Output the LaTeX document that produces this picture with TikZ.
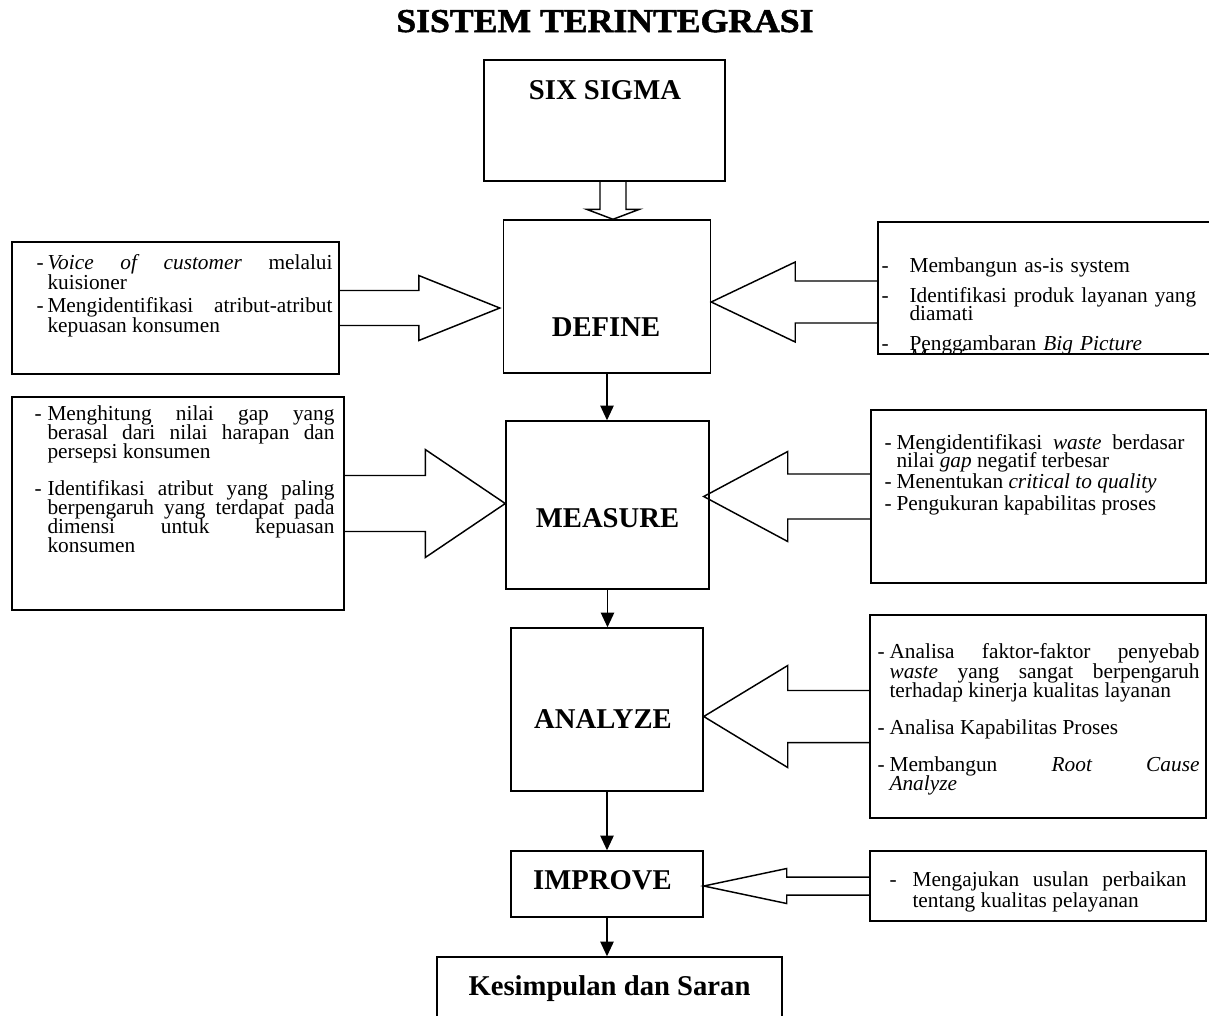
\documentclass[tikz,border=0pt]{standalone}
\usepackage{fontspec}
\setmainfont{Liberation Serif}
\newfontfamily\titlefont{Liberation Serif Bold}[FakeStretch=1.07,FakeBold=1.5]
\usetikzlibrary{calc,arrows.meta}

\tolerance=10000
\hyphenpenalty=10000
\exhyphenpenalty=10000

\newcommand{\bodyset}[1]{\fontsize{16}{#1}\selectfont\setlength{\parskip}{0pt}\lineskiplimit=-20pt\lineskip=0pt}
\newcommand{\itm}[3][0pt]{\ifdim#1>0pt\vskip#1\fi\hangindent=#2\hangafter=1\noindent\makebox[#2][l]{-}#3\par}

\newcommand{\fatarrow}[5]{%
  \draw[hollow] ($(#1)+(0,-#5)$) -- ($(#2)+({-1*(#3)},-#5)$) -- ($(#2)+({-1*(#3)},-#4)$) -- (#2)
    -- ($(#2)+({-1*(#3)},#4)$) -- ($(#2)+({-1*(#3)},#5)$) -- ($(#1)+(0,#5)$);}

\tikzset{
  box/.style={draw=black, line width=1.1pt, rectangle, inner sep=0pt},
  stagelbl/.style={font=\fontsize{21.5}{24}\selectfont\bfseries, inner sep=0pt, anchor=base},
  info/.style={inner sep=0pt, anchor=north west, align=justify, font=\bodyset{#1}},
  flow/.style={line width=1.1pt, -{Triangle[length=11pt,width=10pt]}},
  hollow/.style={line width=1.1pt, line join=miter},
}

\begin{document}
\begin{tikzpicture}[x=0.75pt, y=-0.75pt]
\useasboundingbox (0,0) rectangle (1209,1015);

\node[font=\titlefont\fontsize{25}{28}\selectfont, inner sep=0pt, anchor=base] (title) at (605,32) {SISTEM TERINTEGRASI};

\node[box, minimum width=180.75pt, minimum height=90.75pt] (six) at (604.5,120.5) {};
\node[box, minimum width=155.25pt, minimum height=114.75pt] (define) at (607,296.5) {};
\node[box, minimum width=152.25pt, minimum height=126pt] (measure) at (607.5,505) {};
\node[box, minimum width=144pt, minimum height=122.25pt] (analyze) at (607,709.5) {};
\node[box, minimum width=144pt, minimum height=49.5pt] (improve) at (607,884) {};
\node[box, minimum width=258.75pt, minimum height=54.75pt] (kesimpulan) at (609.5,993.5) {};

\node[stagelbl] (sixlbl) at ($(six)+(0.5,-21.5)$) {SIX SIGMA};
\node[stagelbl] (definelbl) at ($(define)+(-1,39.5)$) {DEFINE};
\node[stagelbl] (measurelbl) at ($(measure)+(0,22)$) {MEASURE};
\node[stagelbl] (analyzelbl) at ($(analyze)+(-4,18.5)$) {ANALYZE};
\node[stagelbl] (improvelbl) at ($(improve)+(-4.5,5)$) {IMPROVE};
\node[stagelbl] (kesimpulanlbl) at ($(kesimpulan)+(0,1.5)$) {Kesimpulan dan Saran};

\node[box, minimum width=245.25pt, minimum height=99pt] (vox) at (175.5,308) {};
\node[box, minimum width=249pt, minimum height=159.75pt] (gap) at (178,503.5) {};
\node[box, minimum width=260.25pt, minimum height=99pt] (asis) at (1051.5,288) {};
\node[box, minimum width=251.25pt, minimum height=129.75pt] (waste) at (1038.5,496.5) {};
\node[box, minimum width=252pt, minimum height=152.25pt] (faktor) at (1038,716.5) {};
\node[box, minimum width=252pt, minimum height=52.5pt] (usulan) at (1038,886) {};

\node[info=15pt, text width=222pt] (voxtxt) at ($(vox.north west)+(25,12.5)$) {%
\itm{8.25pt}{\textit{Voice of customer} melalui kuisioner}
\itm[2.25pt]{8.25pt}{Mengidentifikasi atribut-atribut kepuasan konsumen}};

\node[info=14.25pt, text width=225pt] (gaptxt) at ($(gap.north west)+(23,9)$) {%
\itm{9.75pt}{Menghitung nilai gap yang\linebreak berasal dari nilai harapan dan\linebreak persepsi konsumen}
\itm[13.5pt]{9.75pt}{Identifikasi atribut yang paling\linebreak berpengaruh yang terdapat pada\linebreak dimensi untuk kepuasan\linebreak konsumen}};

\begin{scope}
\clip (asis.north west) rectangle (asis.south east);
\node[info=13.5pt, align=left, text width=245pt] (asistxt) at ($(asis.north west)+(4,36.5)$) {%
\itm{21pt}{Membangun as-is system}
\itm[9pt]{21pt}{Identifikasi produk layanan yang diamati}
\itm[9pt]{21pt}{Penggambaran \textit{Big Picture}\vspace{-4pt} \textit{Mapping}}};
\end{scope}

\node[info=13.5pt, text width=225pt] (wastetxt) at ($(waste.north west)+(14,25)$) {%
\itm{9pt}{Mengidentifikasi \textit{waste} berdasar\linebreak nilai \textit{gap} negatif terbesar}
\itm[2.5pt]{9pt}{Menentukan \textit{critical to quality}}
\itm[2.5pt]{9pt}{Pengukuran kapabilitas proses}};

\node[info=14.6pt, text width=241.5pt] (faktortxt) at ($(faktor.north west)+(8,29)$) {%
\itm{9pt}{Analisa faktor-faktor penyebab\linebreak \textit{waste} yang sangat berpengaruh\linebreak terhadap kinerja kualitas layanan}
\itm[13pt]{9pt}{Analisa Kapabilitas Proses}
\itm[13pt]{9pt}{Membangun \textit{Root Cause\linebreak Analyze}}};

\node[info=15.75pt, text width=222.75pt] (usulantxt) at ($(usulan.north west)+(20,21.5)$) {%
\itm{17.25pt}{Mengajukan usulan perbaikan tentang kualitas pelayanan}};

\coordinate (sixtip) at ($(define.north)+(6,0)$);
\draw[hollow] ($(six.south -| sixtip)+(-13,0)$) -- ($(sixtip)+(-13,-10)$) -- ($(sixtip)+(-26.5,-10)$) -- (sixtip)
  -- ($(sixtip)+(26.5,-10)$) -- ($(sixtip)+(13,-10)$) -- ($(six.south -| sixtip)+(13,0)$);

\fatarrow{vox.east}{$(vox.east -| define.west)+(-3,0)$}{81}{32.5}{17.5}
\fatarrow{$(asis.west)+(0,14)$}{$(asis.west -| define.east)+(0,14)$}{-84}{40}{21}
\fatarrow{gap.east}{gap.east -| measure.west}{80}{54}{28}
\fatarrow{waste.west}{$(waste.west -| measure.east)+(-6,0)$}{-84}{45}{22.5}
\fatarrow{faktor.west}{faktor.west -| analyze.east}{-84}{51}{26}
\fatarrow{usulan.west}{usulan.west -| improve.east}{-83}{17.5}{9}

\draw[flow] (define.south) -- (define.south |- measure.north);
\draw[flow] (measure.south) -- (measure.south |- analyze.north);
\draw[flow] (analyze.south) -- (analyze.south |- improve.north);
\draw[flow] (improve.south) -- (improve.south |- kesimpulan.north);

\end{tikzpicture}
\end{document}
